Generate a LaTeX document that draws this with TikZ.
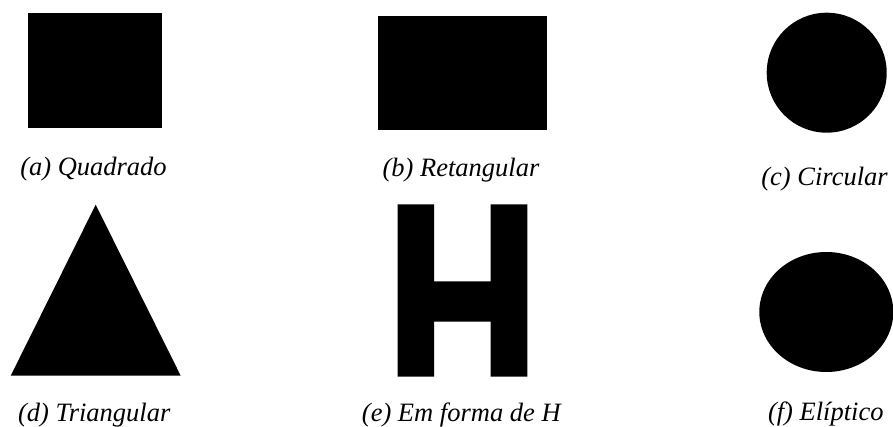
\documentclass[tikz,border=0pt]{standalone}
\usepackage{fontspec}
\setmainfont{Liberation Serif}
\begin{document}
\begin{tikzpicture}[x=1pt,y=-1pt,
  lbl/.style={anchor=base,inner sep=0pt,font=\fontsize{26.5}{30}\selectfont\itshape},
  shp/.style={fill=black}]
\useasboundingbox (0,0) rectangle (893,427);
% (a) square
\fill[shp] (28,13) rectangle (162,128);
\node[lbl] (la) at (93.5,176) {(a) Quadrado};
% (b) rectangle
\fill[shp] (378,16) rectangle (547,130);
\node[lbl] (lb) at (461,177) {(b) Retangular};
% (c) circle
\fill[shp] (826.7,72.7) circle (60);
\node[lbl] (lc) at (824.5,186) {(c) Circular};
% (d) triangle
\fill[shp] (95.7,204.7) -- (180.7,375.7) -- (10.7,375.7) -- cycle;
\node[lbl] (ld) at (94.2,421) {(d) Triangular};
% (e) H shape
\fill[shp] (397.7,204.3) -- (434,204.3) -- (434,281.3) -- (490.7,281.3) -- (490.7,204.3)
  -- (527.3,204.3) -- (527.3,376.7) -- (490.7,376.7) -- (490.7,321.7) -- (434,321.7)
  -- (434,376.7) -- (397.7,376.7) -- cycle;
\node[lbl] (le) at (461.3,421) {(e) Em forma de H};
% (f) ellipse
\fill[shp] (826.3,312) ellipse [x radius=67, y radius=60];
\node[lbl] (lf) at (825.8,420) {(f) Elíptico};
\end{tikzpicture}
\end{document}
